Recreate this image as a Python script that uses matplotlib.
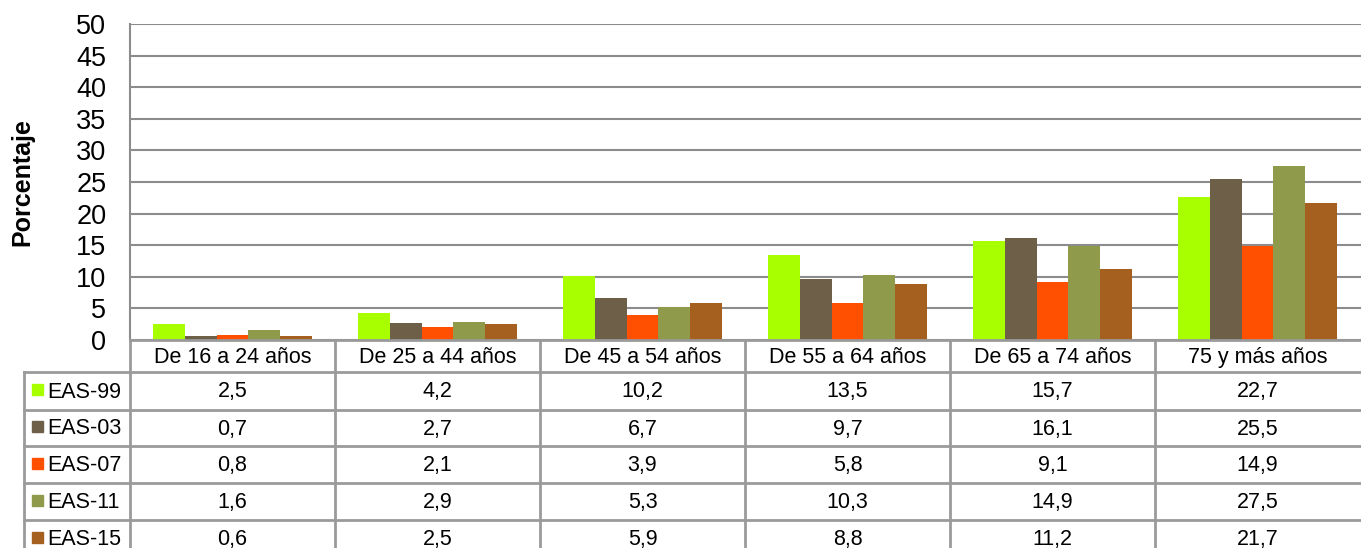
import matplotlib
matplotlib.use("Agg")
import matplotlib.pyplot as plt
import numpy as np

categories = ["De 16 a 24 años", "De 25 a 44 años", "De 45 a 54 años",
              "De 55 a 64 años", "De 65 a 74 años", "75 y más años"]
series_names = ["EAS-99", "EAS-03", "EAS-07", "EAS-11", "EAS-15"]
eas99 = [2.5, 4.2, 10.2, 13.5, 15.7, 22.7]
eas03 = [0.7, 2.7, 6.7, 9.7, 16.1, 25.5]
eas07 = [0.8, 2.1, 3.9, 5.8, 9.1, 14.9]
eas11 = [1.6, 2.9, 5.3, 10.3, 14.9, 27.5]
eas15 = [0.6, 2.5, 5.9, 8.8, 11.2, 21.7]
series_values = [eas99, eas03, eas07, eas11, eas15]
colors = ["#A8FF00", "#6E5F49", "#FF4F00", "#8F9A4B", "#A5601F"]
yticks = [0, 5, 10, 15, 20, 25, 30, 35, 40, 45, 50]

plt.rcParams['font.family'] = ['Liberation Sans', 'DejaVu Sans']

W, H = 1361, 548
fig = plt.figure(figsize=(W / 100, H / 100), dpi=100)

# pixel geometry
x0, x1 = 130, 1361
ytop, ybase = 24, 340
colw = 205
grid_c = "#8C8C8C"

ax = fig.add_axes([x0 / W, (H - ybase) / H, (x1 - x0) / W, (ybase - ytop) / H])
ax.set_xlim(0, (x1 - x0) / colw)
ax.set_ylim(0, 50)
ax.set_yticks(yticks)
ax.set_yticklabels([str(t) for t in yticks], fontsize=19.5)
ax.tick_params(axis='y', length=0, pad=17)
ax.set_xticks([])
ax.grid(axis='y', color=grid_c, linewidth=1.5)
ax.set_axisbelow(True)
for s in ['top', 'right', 'bottom']:
    ax.spines[s].set_visible(False)
ax.spines['left'].set_color(grid_c)
ax.spines['left'].set_linewidth(1.5)

n = len(series_names)
group_w = 0.78
bw = group_w / n
xc = np.arange(len(categories)) + 0.5
for i, (vals, c) in enumerate(zip(series_values, colors)):
    ax.bar(xc - group_w / 2 + bw * (i + 0.5), vals, width=bw, color=c, zorder=3)

ax.set_ylabel("Porcentaje", fontsize=18, fontweight='bold')
ax.yaxis.set_label_coords(-(x0 - 34) / (x1 - x0), 0.5)

# data table drawn in pixel coordinates
tx = fig.add_axes([0, 0, 1, 1])
tx.set_xlim(0, W)
tx.set_ylim(H, 0)
tx.axis('off')
tx.patch.set_alpha(0)

lc = "#9A9A9A"
lw = 2.0
row_edges = [372, 410, 446, 483, 520, 557]
tx.plot([x0, W], [ybase, ybase], color=lc, lw=lw)
for y in row_edges[:-1]:
    tx.plot([24, W], [y, y], color=lc, lw=lw)
tx.plot([24, 24], [372, H + 10], color=lc, lw=lw)
tx.plot([x0, x0], [ybase, H + 10], color=lc, lw=lw)
for k in range(1, len(categories)):
    xx = x0 + k * colw
    tx.plot([xx, xx], [ybase, H + 10], color=lc, lw=lw)

fs = 15.5
for k, cat in enumerate(categories):
    tx.text(x0 + (k + 0.5) * colw, 363, cat, ha='center', va='baseline', fontsize=fs)

for r, (name, vals, c) in enumerate(zip(series_names, series_values, colors)):
    yc = (row_edges[r] + row_edges[r + 1]) / 2
    tx.add_patch(plt.Rectangle((32, yc - 7), 11, 11, color=c))
    tx.text(47, yc + 6.5, name, ha='left', va='baseline', fontsize=fs)
    for k, v in enumerate(vals):
        tx.text(x0 + (k + 0.5) * colw, yc + 6.5, f"{v:.1f}".replace('.', ','),
                ha='center', va='baseline', fontsize=fs)

fig.savefig("out.png", dpi=100)
